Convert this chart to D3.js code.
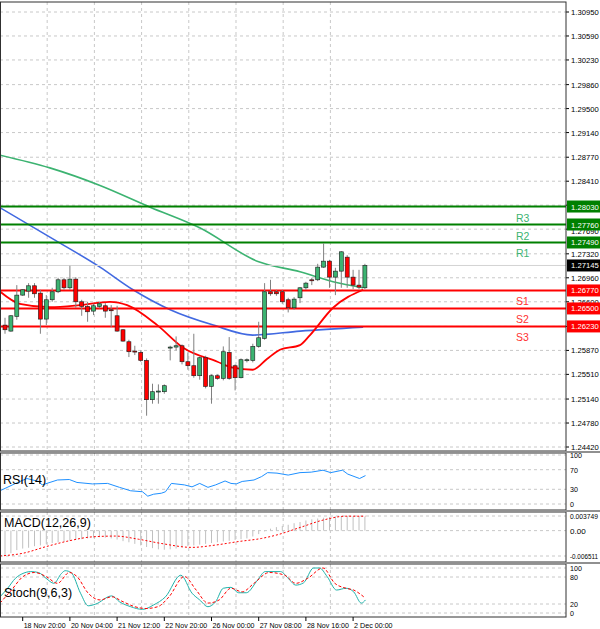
<!DOCTYPE html>
<html><head><meta charset="utf-8">
<script src="https://cdn.jsdelivr.net/npm/d3@7"></script>
<style>body{margin:0;background:#fff}svg{display:block;font-family:"Liberation Sans",Arial,sans-serif}</style>
</head><body><svg id="c" width="600" height="629"></svg>
<script>
// OHLC per H4 candle
const opens  = [1.2625,1.2616,1.2638,1.2670,1.2676,1.2684,1.2673,1.2634,1.2663,1.2675,1.2693,1.2681,1.2694,1.2660,1.2653,1.2646,1.2653,1.2654,1.2648,1.2639,1.2618,1.2600,1.2586,1.2584,1.2572,1.2513,1.2525,1.2525,1.2591,1.2592,1.2594,1.2570,1.2564,1.2549,1.2576,1.2533,1.2549,1.2545,1.2584,1.2564,1.2546,1.2572,1.2572,1.2593,1.2605,1.2675,1.2675,1.2675,1.2663,1.2651,1.2666,1.2681,1.2693,1.2693,1.2712,1.2721,1.2697,1.2706,1.2727,1.2697,1.2685,1.2681];
const highs  = [1.2636,1.2640,1.2685,1.2679,1.2688,1.2688,1.2678,1.2670,1.2681,1.2696,1.2696,1.2714,1.2697,1.2663,1.2660,1.2657,1.2660,1.2658,1.2655,1.2654,1.2619,1.2603,1.2594,1.2587,1.2575,1.2537,1.2536,1.2536,1.2594,1.2608,1.2596,1.2584,1.2612,1.2578,1.2579,1.2551,1.2551,1.2593,1.2607,1.2566,1.2575,1.2575,1.2597,1.2630,1.2688,1.2693,1.2678,1.2678,1.2666,1.2667,1.2682,1.2690,1.2696,1.2717,1.2748,1.2723,1.2711,1.2736,1.2730,1.2708,1.2708,1.2717];
const lows   = [1.2612,1.2615,1.2633,1.2669,1.2666,1.2666,1.2612,1.2625,1.2660,1.2673,1.2678,1.2678,1.2651,1.2639,1.2630,1.2640,1.2650,1.2636,1.2622,1.2615,1.2600,1.2577,1.2580,1.2570,1.2489,1.2507,1.2507,1.2522,1.2572,1.2587,1.2566,1.2558,1.2546,1.2543,1.2530,1.2507,1.2543,1.2542,1.2543,1.2527,1.2545,1.2569,1.2569,1.2591,1.2603,1.2669,1.2669,1.2657,1.2644,1.2648,1.2658,1.2678,1.2685,1.2691,1.2711,1.2681,1.2670,1.2681,1.2681,1.2679,1.2679,1.2679];
const closes = [1.2618,1.2639,1.2670,1.2678,1.2684,1.2672,1.2634,1.2663,1.2675,1.2693,1.2681,1.2694,1.2660,1.2653,1.2645,1.2654,1.2657,1.2646,1.2647,1.2616,1.2601,1.2585,1.2585,1.2572,1.2513,1.2525,1.2526,1.2534,1.2592,1.2594,1.2570,1.2564,1.2549,1.2576,1.2533,1.2549,1.2545,1.2585,1.2545,1.2546,1.2573,1.2573,1.2593,1.2606,1.2675,1.2672,1.2672,1.2660,1.2651,1.2664,1.2681,1.2688,1.2692,1.2712,1.2721,1.2697,1.2706,1.2735,1.2697,1.2685,1.2682,1.27145];
// moving averages [candle index, price]
const maSlow = [[-0.8,1.2880],[7.6,1.2861],[16,1.2835],[24.6,1.2802],[33,1.2771],[43,1.2720],[50,1.2705],[55.6,1.2690],[60.7,1.2681]];
const maMid  = [[-0.8,1.2801],[8.4,1.2753],[16.1,1.2712],[21.7,1.2678],[28,1.2648],[35.3,1.2625],[42,1.2610],[50,1.2616],[60.7,1.2622]];
const maFast = [[-0.8,1.2675],[2.5,1.2657],[7.6,1.2652],[12.7,1.2655],[17.8,1.2660],[20.7,1.2655],[25.8,1.2625],[30.2,1.2591],[36,1.2570],[38.6,1.2561],[42,1.2558],[44.4,1.2574],[46.6,1.2588],[50,1.2595],[51.7,1.2610],[55.6,1.2651],[60.7,1.2678]];
// support / resistance
const levelNames  = ["R3","R2","R1","S1","S2","S3"];
const levelValues = [1.28030,1.27760,1.27490,1.26770,1.26500,1.26230];
const lastPrice = 1.27145;
const priceTicks = [1.30950,1.30590,1.30230,1.29860,1.29500,1.29140,1.28770,1.28410,1.28050,1.27690,1.27320,1.26960,1.26600,1.26230,1.25870,1.25510,1.25140,1.24780,1.24420];
const hiddenTickLabels = [1.28050,1.26230];
// RSI [index, value]
const rsi = [[-0.85,27],[1.8,42],[3.7,52],[5.7,46],[6.3,39],[8.9,49],[10.9,50],[12.2,44],[14.8,41],[17.4,42],[19.4,34],[21.3,27],[23.3,25],[24.2,16],[25.2,20],[26.5,22],[27.2,25],[28.2,42],[30.4,39],[31.7,35],[33,42],[34.4,34],[35.7,39],[37.3,47],[38.3,42],[39.2,41],[40.2,46],[42.2,49],[43.5,56],[44.5,64],[46.1,63],[48,59],[50,64],[51.9,65],[53.9,69],[55.2,64],[57.2,69],[58.1,61],[60.1,52],[61.1,58]];
// MACD histogram (x0.001 per candle) and signal [index, value x0.001]
const macdHist = [-6.5,-5.8,-5.0,-4.6,-4.4,-4.0,-3.8,-3.5,-3.2,-3.0,-2.8,-2.6,-2.4,-2.2,-2.0,-1.8,-1.7,-1.8,-2.0,-2.3,-2.7,-3.0,-3.4,-3.8,-4.2,-4.5,-4.8,-4.9,-4.8,-4.6,-4.3,-4.0,-3.8,-3.6,-3.4,-3.2,-3.0,-2.8,-2.6,-2.4,-2.2,-2.0,-1.5,-0.9,-0.2,0.5,0.9,1.2,1.5,1.9,2.2,2.6,2.9,3.1,3.3,3.5,3.6,3.7,3.7,3.7,3.7,3.6];
const macdSignal = [[-0.85,-6.5],[3.06,-5.8],[6.97,-4.1],[10.9,-2.6],[14.8,-1.6],[18.7,-1.4],[22.6,-2.2],[26.5,-3.3],[31.7,-4.3],[35.7,-3.7],[39.6,-2.8],[43.5,-2.0],[46.1,-1.1],[50,0.8],[53.9,2.7],[57.8,3.7],[61.1,3.7]];
// Stochastic
const stochK = [[-0.85,36],[0.45,55],[1.76,77],[3.06,88],[4.37,92],[5.67,90],[6.97,77],[8.28,66],[9.58,88],[10.2,94],[11.2,90],[12.8,44],[14.1,16],[15.4,20],[18.1,38],[19.4,25],[21.3,14],[23.3,8],[25.2,18],[27.2,36],[29.8,84],[31.7,44],[33,29],[34.4,14],[35.7,25],[37,55],[38.3,57],[39.6,45],[40.9,45],[42.8,73],[44.1,92],[46.7,92],[48,77],[49.3,62],[50.6,67],[52.3,100],[53.3,100],[54.6,81],[56.2,51],[57.8,55],[59.1,47],[60.4,22],[61.1,29]];
const stochD = [[-0.85,22],[1.1,51],[3.06,81],[5,90],[6.97,81],[8.9,66],[10.9,90],[12.2,81],[14.1,44],[16.1,29],[18.1,36],[20,25],[22,14],[23.9,10],[25.9,14],[27.8,36],[30.4,81],[32.4,51],[34.4,22],[36.3,29],[38.3,55],[40.2,47],[42.2,66],[44.8,90],[47.4,84],[49.3,66],[51.3,77],[53.9,100],[55.9,66],[57.8,55],[59.1,51],[60.8,36]];
const timeLabels = ["16:00","18 Nov 20:00","20 Nov 04:00","21 Nov 12:00","22 Nov 20:00","26 Nov 00:00","27 Nov 08:00","28 Nov 16:00","2 Dec 00:00"];
const timeIdx = [-5,3,11,19,27,35,43,51,59];

const svg = d3.select("#c");
const R = 566, axX = 569;
const x = d3.scaleLinear().domain([0,61]).range([5,364.9]);
const y = d3.scaleLinear().domain([1.24420,1.30950]).range([447,12]);
const yR = d3.scaleLinear().domain([0,100]).range([504,455]);
const yM = d3.scaleLinear().domain([-6.511,3.749]).range([556,516]);
const yS = d3.scaleLinear().domain([0,100]).range([613,568]);
const panels = [[2,451],[453,510],[512,562],[564,617]];
const gridC = "#c8c8c8";
const font = 7.5;
function axText(sel, s){
  sel.attr("font-size",font).attr("textLength",Math.min(s.length*3.95,28)).attr("lengthAdjust","spacingAndGlyphs").text(s);
}

const vg = d3.range(-0.85,62,8);
panels.forEach(([t,b])=>{
  svg.selectAll(null).data(vg).enter().append("line")
    .attr("x1",d=>x(d)).attr("x2",d=>x(d)).attr("y1",t).attr("y2",b)
    .attr("stroke",gridC).attr("stroke-dasharray","3,3");
});
svg.selectAll(null).data(priceTicks).enter().append("line")
  .attr("x1",0).attr("x2",R).attr("y1",d=>y(d)).attr("y2",d=>y(d))
  .attr("stroke",gridC).attr("stroke-dasharray","3,3");
priceTicks.forEach(d=>{
  svg.append("line").attr("x1",R).attr("x2",R+3).attr("y1",y(d)).attr("y2",y(d)).attr("stroke","#000");
  if (!hiddenTickLabels.includes(d))
    axText(svg.append("text").attr("x",axX+2).attr("y",y(d)+(d===1.27690?5:3)), d.toFixed(5));
});

function hgrid(vals, sc, labels){
  vals.forEach((v,i)=>{
    svg.append("line").attr("x1",0).attr("x2",R).attr("y1",sc(v)).attr("y2",sc(v))
      .attr("stroke",gridC).attr("stroke-dasharray","3,3");
    axText(svg.append("text").attr("x",axX+1).attr("y",sc(v)+3), labels[i]);
  });
}
hgrid([100,70,30,0],yR,["100","70","30","0"]);
hgrid([3.749,0,-6.511],yM,["0.003749","0.00","-0.006511"]);
hgrid([100,80,20,0],yS,["100","80","20","0"]);

const ln = d3.line().x(d=>x(d[0])).y(d=>y(d[1])).curve(d3.curveMonotoneX);
svg.append("path").attr("d",ln(maSlow)).attr("fill","none").attr("stroke","#3cb371").attr("stroke-width",1.6);
svg.append("path").attr("d",ln(maMid)).attr("fill","none").attr("stroke","#4169e1").attr("stroke-width",1.6);
svg.append("path").attr("d",ln(maFast)).attr("fill","none").attr("stroke","#ff0000").attr("stroke-width",1.8);

svg.append("line").attr("x1",0).attr("x2",R).attr("y1",y(lastPrice)).attr("y2",y(lastPrice)).attr("stroke","#d3d3d3");

levelValues.forEach((v,i)=>{
  const res = levelNames[i][0]==="R";
  const col = res ? "#008000" : "#ff0000";
  svg.append("line").attr("x1",0).attr("x2",R).attr("y1",y(v)).attr("y2",y(v)).attr("stroke",col).attr("stroke-width",2);
  svg.append("text").attr("x",516).attr("y",y(v)+15).attr("font-size",10.5).attr("fill",res?"#3cb371":"#ff3030").text(levelNames[i]);
});

const cd = opens.map((o,i)=>({i,o,h:highs[i],l:lows[i],c:closes[i]}));
const g = svg.append("g");
g.selectAll(null).data(cd).enter().append("line")
  .attr("x1",d=>x(d.i)).attr("x2",d=>x(d.i)).attr("y1",d=>y(d.h)).attr("y2",d=>y(d.l)).attr("stroke","#808080");
g.selectAll(null).data(cd).enter().append("rect")
  .attr("x",d=>x(d.i)-2).attr("width",4)
  .attr("y",d=>y(Math.max(d.o,d.c))).attr("height",d=>Math.max(1,Math.abs(y(d.o)-y(d.c))))
  .attr("fill",d=>d.c>=d.o?"#3cb371":"#ff0000").attr("stroke","#1a1a1a").attr("stroke-width",0.6);

function tag(v,bg,fg){
  svg.append("rect").attr("x",R+1).attr("y",y(v)-6).attr("width",33).attr("height",12).attr("fill",bg);
  axText(svg.append("text").attr("x",axX+2).attr("y",y(v)+3).attr("fill",fg), v.toFixed(5));
}
levelValues.forEach((v,i)=>tag(v, levelNames[i][0]==="R"?"#008000":"#ff0000","#fff"));
tag(lastPrice,"#000","#fff");

svg.append("path").attr("d",d3.line().x(d=>x(d[0])).y(d=>yR(d[1]))(rsi)).attr("fill","none").attr("stroke","#1e90ff").attr("stroke-width",1);
svg.selectAll(null).data(macdHist).enter().append("line")
  .attr("x1",(d,i)=>x(i)).attr("x2",(d,i)=>x(i)).attr("y1",yM(0)).attr("y2",d=>yM(d))
  .attr("stroke","#c0c0c0").attr("stroke-width",1);
svg.append("path").attr("d",d3.line().x(d=>x(d[0])).y(d=>yM(d[1])).curve(d3.curveMonotoneX)(macdSignal))
  .attr("fill","none").attr("stroke","#ff0000").attr("stroke-dasharray","2,2");
svg.append("path").attr("d",d3.line().x(d=>x(d[0])).y(d=>yS(d[1])).curve(d3.curveMonotoneX)(stochK)).attr("fill","none").attr("stroke","#20b2aa").attr("stroke-width",1);
svg.append("path").attr("d",d3.line().x(d=>x(d[0])).y(d=>yS(d[1])).curve(d3.curveMonotoneX)(stochD)).attr("fill","none").attr("stroke","#ff0000").attr("stroke-dasharray","3,2");

svg.append("text").attr("x",3).attr("y",484).attr("font-size",12.5).text("RSI(14)");
svg.append("text").attr("x",4).attr("y",527).attr("font-size",12.5).text("MACD(12,26,9)");
svg.append("text").attr("x",4).attr("y",597).attr("font-size",12.5).text("Stoch(9,6,3)");

panels.forEach(([t,b])=>{
  svg.append("rect").attr("x",0.5).attr("y",t).attr("width",R-0.5).attr("height",b-t).attr("fill","none").attr("stroke","#303030");
});
[452,511,563].forEach(v=>svg.append("line").attr("x1",0).attr("x2",600).attr("y1",v).attr("y2",v).attr("stroke","#909090").attr("stroke-width",2));

timeIdx.forEach((t,i)=>{
  svg.append("line").attr("x1",x(t)).attr("x2",x(t)).attr("y1",617).attr("y2",621).attr("stroke","#000");
  svg.append("text").attr("x",x(t)+1).attr("y",628).attr("font-size",7.5)
    .attr("textLength",timeLabels[i].length*3.5).attr("lengthAdjust","spacingAndGlyphs").text(timeLabels[i]);
});
</script></body></html>
